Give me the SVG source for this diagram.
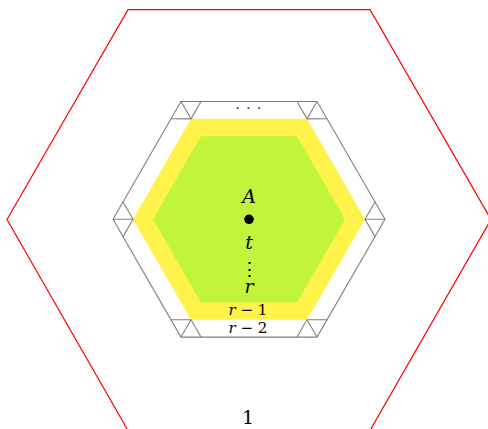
<svg xmlns="http://www.w3.org/2000/svg" width="488" height="429" viewBox="0 0 488 429">
<style>
.red{fill:none;stroke:#ff0000;stroke-width:1.2}
.gray{fill:none;stroke:#808080;stroke-width:1.1;stroke-linejoin:miter}
.yellow{fill:#fff24a;stroke:none}
.green{fill:#c1f53b;stroke:none}
text{font-family:'DejaVu Serif','Liberation Serif',serif;text-anchor:middle;fill:#000}
.m{font-style:italic}
</style>
<rect width="488" height="429" fill="#fff"/>
<g id="outer">
<polygon class="red" points="7,219.5 128,9.7 370,9.7 491,219.5 370,430.5 128,430.5"/>
</g>
<g id="ring-yellow">
<polygon class="yellow" points="133,219.3 191,118.84 307,118.84 365,219.3 307,319.76 191,319.76"/>
</g>
<g id="ring-green">
<polygon class="green" points="153,219.3 201,136.2 297,136.2 345,219.3 297,302.4 201,302.4"/>
</g>
<g id="gray-hex">
<polygon class="gray" points="113,219.3 181,101.5 317,101.5 385,219.3 317,337.1 181,337.1"/>
</g>
<g id="connectors">
<path class="gray" d="M375,236.62 L365,219.3 L375,201.98 M385,219.3 H365"/>
<path class="gray" d="M327,319.78 L307,319.76 L297,337.1 M317,337.1 L307,319.76"/>
<path class="gray" d="M201,337.1 L191,319.76 L171,319.78 M181,337.1 L191,319.76"/>
<path class="gray" d="M123,236.62 L133,219.3 L123,201.98 M113,219.3 H133"/>
<path class="gray" d="M171,118.82 L191,118.84 L201,101.5 M181,101.5 L191,118.84"/>
<path class="gray" d="M297,101.5 L307,118.84 L327,118.82 M317,101.5 L307,118.84"/>
</g>
<g id="center">
<circle cx="249" cy="219.3" r="4.8" fill="#000"/>
</g>
<g id="labels">
<text class="m" x="249" y="202.7" font-size="19">A</text>
<text class="m" x="249" y="249" font-size="19">t</text>
<text x="249" y="276" font-size="19">⋮</text>
<text class="m" x="249" y="292.7" font-size="19">r</text>
<text class="m" x="248" y="315" font-size="15">r <tspan font-style="normal">− 1</tspan></text>
<text class="m" x="248" y="332.7" font-size="15">r <tspan font-style="normal">− 2</tspan></text>
<text x="249" y="113" font-size="13" fill="#808080" letter-spacing="1.25">· · ·</text>
<text x="248" y="424.3" font-size="19">1</text>
</g>
</svg>
